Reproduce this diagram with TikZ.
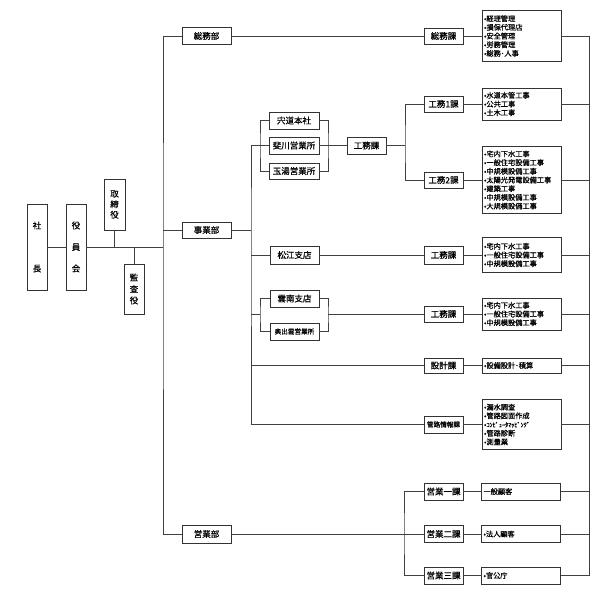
\documentclass[tikz,border=0pt]{standalone}
\usepackage{fontspec}
\newfontfamily\jp[FakeBold=0.6]{Noto Sans CJK JP}
\begin{document}
\begin{tikzpicture}[x=1pt,y=-1pt,
  conn/.style={draw=black!75,line width=0.8pt},
  box/.style={draw=black!80,line width=0.8pt,inner sep=0pt,outer sep=0pt,fill=white},
  lbl/.style={box,minimum width=39pt,minimum height=16pt,font=\jp\fontsize{8.5}{10}\selectfont},
  lblw/.style={lbl,minimum width=49pt},
  lbls/.style={lbl,font=\jp\fontsize{6.6}{8}\selectfont},
  items/.style={box,text width=75pt,inner xsep=2pt,align=left,font=\jp\fontsize{7.2}{8.7}\selectfont},
  vbox/.style={box,minimum width=20pt,align=center}
]
\useasboundingbox[fill=white] (0,0) rectangle (600,596);
% left part
\node[vbox,minimum height=86pt,font=\jp\fontsize{8.5}{43}\selectfont] (shacho) at (37,247) {社\\長};
\node[vbox,minimum height=86pt,font=\jp\fontsize{8.5}{21.5}\selectfont] (yakuin) at (76,247) {役\\員\\会};
\node[vbox,minimum width=21pt,minimum height=51pt,font=\jp\fontsize{8.5}{10.5}\selectfont] (torishimari) at (114.5,204.5) {取\\締\\役};
\node[vbox,minimum height=50pt,font=\jp\fontsize{8.5}{11.5}\selectfont] (kansa) at (134,289) {監\\査\\役};
% departments
\node[lblw,minimum height=17pt] (somubu) at (206.5,36) {総務部};
\node[lblw] (jigyobu) at (206.5,230) {事業部};
\node[lblw,minimum height=18pt] (eigyobu) at (206.5,534) {営業部};
% somu
\node[lbl] (somuka) at (443.5,36) {総務課};
\node[items,minimum height=51pt] (isomu) at (521.5,36) {•経理管理\\•損保代理店\\•安全管理\\•労務管理\\•総務･人事};
% jigyo - shinji group
\node[lblw,minimum width=50pt,minimum height=17pt] (shinji) at (294,120.5) {宍道本社};
\node[lblw,minimum width=50pt,minimum height=17pt] (hikawa) at (294,145.5) {斐川営業所};
\node[lblw,minimum width=50pt] (tamayu) at (294,171) {玉湯営業所};
\node[lbl,minimum height=17pt] (komuka1) at (366.5,145.5) {工務課};
\node[lbl] (komu1ka) at (443.5,104) {工務1課};
\node[lbl] (komu2ka) at (443.5,180) {工務2課};
\node[items,minimum height=32pt] (ik1) at (521.5,104) {•水道本管工事\\•公共工事\\•土木工事};
\node[items,minimum height=67pt] (ik2) at (521.5,180) {•宅内下水工事\\•一般住宅設備工事\\•中規模設備工事\\•太陽光発電設備工事\\•建築工事\\•中規模設備工事\\•大規模設備工事};
% matsue
\node[lblw,minimum height=18pt] (matsue) at (294.5,255) {松江支店};
\node[lbl,minimum height=18pt] (komuka2) at (443.5,255) {工務課};
\node[items,minimum height=35pt] (imatsue) at (521.5,255) {•宅内下水工事\\•一般住宅設備工事\\•中規模設備工事};
% unnan
\node[lblw,minimum height=17pt] (unnan) at (294.5,298.5) {雲南支店};
\node[lblw,minimum height=17pt,font=\jp\fontsize{6.6}{8}\selectfont] (okuizumo) at (294.5,331.5) {奥出雲営業所};
\node[lbl] (komuka3) at (443.5,314) {工務課};
\node[items,minimum height=32pt] (iunnan) at (521.5,314) {•宅内下水工事\\•一般住宅設備工事\\•中規模設備工事};
% sekkei
\node[lbl,minimum height=15pt] (sekkei) at (443.5,365.5) {設計課};
\node[items,minimum height=15pt] (isekkei) at (521.5,365.5) {•設備設計･積算};
% kanro
\node[lbls,minimum height=17pt] (kanro) at (443.5,424.5) {管路情報課};
\node[items,minimum height=50pt] (ikanro) at (521.5,424.5) {•漏水調査\\•管路図面作成\\•{\fontsize{6.2}{8.7}\selectfont ｺﾝﾋﾟｭｰﾀﾏｯﾋﾟﾝｸﾞ}\\•管路診断\\•測量業};
% eigyo
\node[lbl,minimum height=17pt] (eigyo1) at (443.5,491.5) {営業一課};
\node[lbl,minimum height=17pt] (eigyo2) at (443.5,534) {営業二課};
\node[lbl,minimum height=17pt] (eigyo3) at (443.5,575.5) {営業三課};
\node[items,minimum height=17pt] (ie1) at (521,491.5) {一般顧客};
\node[items,minimum height=17pt] (ie2) at (521,534) {•法人顧客};
\node[items,minimum height=17pt] (ie3) at (521,575.5) {•官公庁};
% coordinates
\coordinate (L) at (163,247);
\coordinate (V) at (251,230);
\coordinate (SL) at (260,145.5);
\coordinate (SR) at (328,145.5);
\coordinate (KB) at (405,145.5);
\coordinate (UL) at (260,314);
\coordinate (UR) at (328,314);
\coordinate (EB) at (404,534);
\coordinate (R) at (589,36);
\coordinate (Rb) at (589,575.5);
% connectors
\draw[conn] (shacho.east) -- (yakuin.west);
\draw[conn] (yakuin.east) -- (L);
\draw[conn] (torishimari.south) -- (torishimari.south |- L);
\draw[conn] (kansa.north) -- (kansa.north |- L);
\draw[conn] (somubu.west) -| (L) |- (eigyobu.west);
\draw[conn] (jigyobu.west) -- (jigyobu.west -| L);
\draw[conn] (somubu.east) -- (somuka.west);
\draw[conn] (somuka.east) -- (isomu.west);
\draw[conn] (jigyobu.east) -- (V);
\draw[conn] (hikawa.west) -| (V) |- (kanro.west);
\draw[conn] (shinji.west) -| (SL) |- (tamayu.west);
\draw[conn] (shinji.east) -| (SR) |- (tamayu.east);
\draw[conn] (hikawa.east) -- (komuka1.west);
\draw[conn] (komuka1.east) -- (KB);
\draw[conn] (komu1ka.west) -| (KB) |- (komu2ka.west);
\draw[conn] (komu1ka.east) -- (ik1.west);
\draw[conn] (komu2ka.east) -- (ik2.west);
\draw[conn] (matsue.west) -- (matsue.west -| V);
\draw[conn] (matsue.east) -- (komuka2.west);
\draw[conn] (komuka2.east) -- (imatsue.west);
\draw[conn] (UL -| V) -- (UL);
\draw[conn] (unnan.west) -| (UL) |- (okuizumo.west);
\draw[conn] (unnan.east) -| (UR) |- (okuizumo.east);
\draw[conn] (UR) -- (komuka3.west);
\draw[conn] (komuka3.east) -- (iunnan.west);
\draw[conn] (sekkei.west) -- (sekkei.west -| V);
\draw[conn] (sekkei.east) -- (isekkei.west);
\draw[conn] (kanro.east) -- (ikanro.west);
\draw[conn] (eigyobu.east) -- (eigyo2.west);
\draw[conn] (eigyo1.west) -| (EB) |- (eigyo3.west);
\draw[conn] (eigyo1.east) -- (ie1.west);
\draw[conn] (eigyo2.east) -- (ie2.west);
\draw[conn] (eigyo3.east) -- (ie3.west);
\draw[conn] (R) -- (Rb);
\foreach \n in {isomu,ik1,ik2,imatsue,iunnan,isekkei,ikanro,ie1,ie2,ie3}
  \draw[conn] (\n.east) -- (\n.east -| R);
\end{tikzpicture}
\end{document}
